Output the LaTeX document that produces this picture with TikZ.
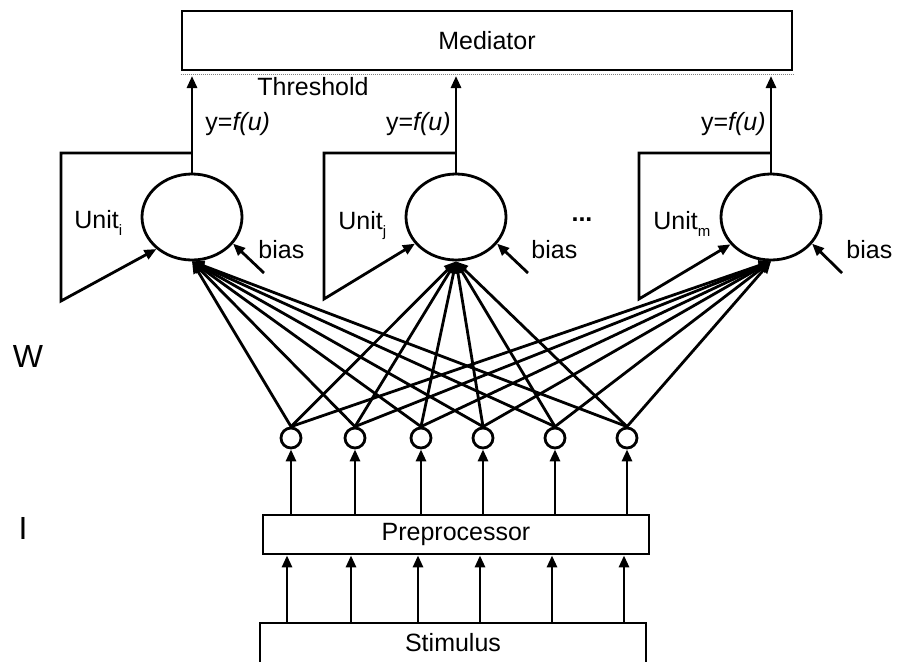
\documentclass[tikz,border=0pt]{standalone}
\usepackage{fontspec}
\setmainfont{Liberation Sans}
\usetikzlibrary{arrows.meta,shapes.geometric}
\newcommand\usub[1]{\raisebox{-7pt}{\fontsize{15}{15}\selectfont #1}}
\begin{document}
\begin{tikzpicture}[x=1pt,y=-1pt,line width=2.8pt,
  every node/.style={font=\fontsize{25}{29}\selectfont, inner sep=0pt},
  box/.style={draw, rectangle},
  unit/.style={draw, ellipse, minimum width=100pt, minimum height=86pt},
  inp/.style={draw, circle, minimum size=20pt},
  arr/.style={-{Triangle[length=12pt,width=10pt]}},
  thr/.style={line width=1.6pt, gray, dash pattern=on 1pt off 1pt},
  big/.style={font=\fontsize{32}{36}\selectfont}]
\clip (0,0) rectangle (899,661);
% boxes
\node[box, minimum width=610pt, minimum height=59pt] (med) at (487,40.5) {Mediator};
\node[box, minimum width=386pt, minimum height=39pt] (pre) at (456,534.5) {Preprocessor};
\node[box, minimum width=386pt, minimum height=40pt] (stim) at (453,643) {Stimulus};
% threshold line
\draw[thr] ([yshift=-3pt]med.south west) -- ([yshift=-3pt]med.south east);
\coordinate (th) at (0,76);
% units
\node[unit] (ei) at (192,217) {};
\node[unit] (ej) at (456,217) {};
\node[unit] (em) at (771,217) {};
% input circles
\node[inp] (c1) at (291,438) {};
\node[inp] (c2) at (355,438) {};
\node[inp] (c3) at (421,438) {};
\node[inp] (c4) at (483,438) {};
\node[inp] (c5) at (555,438) {};
\node[inp] (c6) at (627,438) {};
% outputs to mediator
\foreach \e in {ei,ej,em} \draw[arr] (\e.north) -- (\e.north |- th);
% trapezoid feedback
\coordinate (ti) at (61,153);  \coordinate (bti) at (61,301);
\coordinate (tj) at (324,153); \coordinate (btj) at (324,299);
\coordinate (tm) at (639,153); \coordinate (btm) at (639,299);
\draw[arr, line join=miter] (ei.north |- ti) -- (ti) -- (bti) -- (ei.222);
\draw[arr, line join=miter] (ej.north |- tj) -- (tj) -- (btj) -- (ej.213);
\draw[arr, line join=miter] (em.north |- tm) -- (tm) -- (btm) -- (em.214);
% bias arrows
\coordinate (bsi) at (264,273);
\coordinate (bsj) at (528,273);
\coordinate (bsm) at (842,273);
\draw[arr] (bsi) -- (ei.-33);
\draw[arr] (bsj) -- (ej.-33);
\draw[arr] (bsm) -- (em.-33);
% fan connections
\foreach \c in {c1,c2,c3,c4,c5,c6}
  \foreach \e in {ei,ej,em}
    \draw[arr] (\c.north) -- (\e.south);
% preprocessor to inputs
\foreach \c in {c1,c2,c3,c4,c5,c6}
  \draw[arr] (pre.north -| \c) -- (\c.south);
% stimulus to preprocessor
\coordinate (s1) at (287,600);
\coordinate (s2) at (351,600);
\coordinate (s3) at (418,600);
\coordinate (s4) at (480,600);
\coordinate (s5) at (552,600);
\coordinate (s6) at (624,600);
\foreach \s in {s1,s2,s3,s4,s5,s6}
  \draw[arr] (stim.north -| \s) -- (pre.south -| \s);
% labels
\node[anchor=base west] (thrlab) at (256,95) {Threshold};
\node[anchor=base west] (yi) at (204,130) {y=\textit{f(u)}};
\node[anchor=base east] (yj) at (452,130) {y=\textit{f(u)}};
\node[anchor=base east] (ym) at (767,130) {y=\textit{f(u)}};
\node[anchor=base west] (ui) at (73,228) {Unit\usub{i}};
\node[anchor=base west] (uj) at (337,229) {Unit\usub{j}};
\node[anchor=base west] (um) at (652,229) {Unit\usub{m}};
\node[anchor=base west] (bli) at (257,258) {bias};
\node[anchor=base west] (blj) at (530,258) {bias};
\node[anchor=base west] (blm) at (845,258) {bias};
\node[anchor=base] (dots) at (582,221) {\textbf{...}};
\node[big] (W) at (28,356) {W};
\node[big] (I) at (23,528) {I};
\end{tikzpicture}
\end{document}
